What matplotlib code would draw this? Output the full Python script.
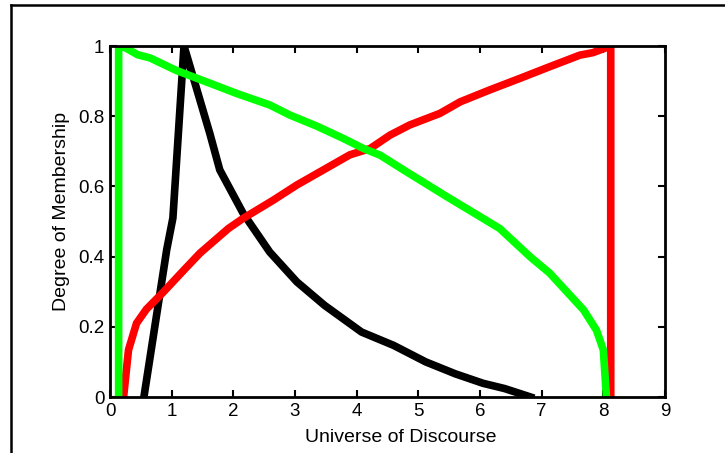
import matplotlib
matplotlib.use("Agg")
import matplotlib.pyplot as plt
from matplotlib.lines import Line2D

plt.rcParams['font.family'] = ['Liberation Sans', 'DejaVu Sans']

# Green (decreasing) membership
green_x = [0.14, 0.14, 0.25, 0.45, 0.65, 1.08, 1.62, 2.05, 2.59, 2.92, 3.35, 3.78, 4.11, 4.38,
           4.76, 5.46, 6.0, 6.32, 6.81, 7.13, 7.68, 7.89, 8.0, 8.05]
green_y = [0.0, 1.0, 0.995, 0.975, 0.966, 0.93, 0.894, 0.865, 0.832, 0.803, 0.772, 0.737, 0.708, 0.689,
           0.647, 0.571, 0.514, 0.48, 0.40, 0.353, 0.248, 0.19, 0.134, 0.0]

# Red (increasing) membership
red_x = [0.22, 0.3, 0.43, 0.59, 0.86, 1.19, 1.46, 1.92, 2.16, 2.65, 3.03, 3.46, 3.89, 4.22, 4.54,
         4.86, 5.35, 5.68, 6.16, 6.65, 7.13, 7.62, 7.83, 8.12, 8.12]
red_y = [0.0, 0.134, 0.21, 0.25, 0.298, 0.36, 0.41, 0.48, 0.509, 0.561, 0.604, 0.647, 0.69, 0.708, 0.746,
         0.775, 0.808, 0.841, 0.875, 0.908, 0.941, 0.974, 0.981, 1.0, 0.0]

# Black membership
black_x = [0.55, 0.92, 1.02, 1.2, 1.41, 1.62, 1.78, 2.16, 2.59, 3.03, 3.48, 4.08, 4.6, 5.12, 5.6, 6.05, 6.4, 6.82]
black_y = [0.0, 0.42, 0.51, 1.0, 0.875, 0.75, 0.647, 0.523, 0.413, 0.328, 0.261, 0.185, 0.147, 0.10, 0.066, 0.039, 0.024, 0.0]

xticks = [0, 1, 2, 3, 4, 5, 6, 7, 8, 9]
yticks = [0, 0.2, 0.4, 0.6, 0.8, 1]
ytick_labels = ['0', '0.2', '0.4', '0.6', '0.8', '1']

fig = plt.figure(figsize=(7.25, 4.53), dpi=100)
ax = fig.add_axes([110/725, 1-397/453, (665-110)/725, (397-46)/453])

lw = 5.5
ax.plot(black_x, black_y, color='black', lw=lw, solid_joinstyle='round')
ax.plot(red_x, red_y, color='#ff0000', lw=lw, solid_joinstyle='miter')
ax.plot(green_x, green_y, color='#00ff00', lw=lw, solid_joinstyle='miter')

ax.set_xlim(0, 9)
ax.set_ylim(0, 1)
ax.set_xticks(xticks)
ax.set_yticks(yticks)
ax.set_yticklabels(ytick_labels)
ax.tick_params(direction='in', length=5, width=1.5, top=True, right=True,
               labelsize=13.5, pad=4, colors='black')
for s in ax.spines.values():
    s.set_linewidth(2)
ax.set_xlabel('Universe of Discourse', fontsize=14, va='center')
ax.set_ylabel('Degree of Membership', fontsize=14, va='center')
ax.xaxis.set_label_coords((401-110)/555, -(438-397)/351)
ax.yaxis.set_label_coords((62-110)/555, (397-211)/351)

# figure frame (left and top edges visible)
fig.add_artist(Line2D([11/725, 11/725], [0, 1-4.5/453], transform=fig.transFigure, color='black', lw=1.8))
fig.add_artist(Line2D([11/725, 1], [1-4.5/453, 1-4.5/453], transform=fig.transFigure, color='black', lw=1.8))

fig.savefig('out.png', dpi=100)
